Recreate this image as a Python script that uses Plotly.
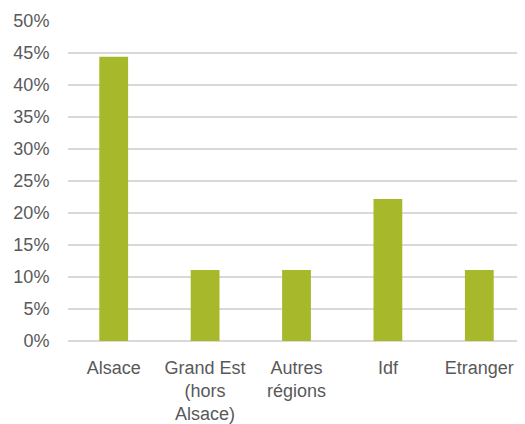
import plotly.graph_objects as go

categories = ["Alsace", "Grand Est<br>(hors<br>Alsace)", "Autres<br>régions", "Idf", "Etranger"]
values = [44.4, 11.1, 11.1, 22.2, 11.1]
y_ticks = [0, 5, 10, 15, 20, 25, 30, 35, 40, 45, 50]
y_tick_labels = [f"{v}%" for v in y_ticks]

FONT = "Liberation Sans Narrow, Arial Narrow, Liberation Sans, Arial, sans-serif"
FS = 18

fig = go.Figure(
    go.Bar(
        x=categories,
        y=values,
        marker=dict(color="#A7B82A", line=dict(width=0)),
        width=0.315,
    )
)

# page body has an 8px margin: figure is sized/offset so the plot lands where the reference has it
fig.update_layout(
    width=517,
    height=416,
    margin=dict(l=60, r=0, t=13, b=83, autoexpand=False),
    paper_bgcolor="white",
    plot_bgcolor="white",
    showlegend=False,
    font=dict(family=FONT, size=FS, color="#595959"),
)

fig.update_xaxes(
    range=[-0.5, 4.5],
    automargin=False,
    showgrid=False,
    showline=False,
    zeroline=False,
    ticks="outside",
    ticklen=10,
    tickcolor="rgba(0,0,0,0)",
    tickfont=dict(family=FONT, size=FS, color="#595959"),
)

fig.update_yaxes(
    range=[0, 50],
    automargin=False,
    tickvals=y_ticks,
    ticktext=y_tick_labels,
    showgrid=True,
    gridcolor="#D9D9D9",
    gridwidth=1.5,
    zeroline=True,
    zerolinecolor="#D9D9D9",
    zerolinewidth=1.5,
    showline=False,
    ticks="outside",
    ticklen=14,
    tickcolor="rgba(0,0,0,0)",
    tickfont=dict(family=FONT, size=FS, color="#595959"),
)

fig.write_html("out.html")
